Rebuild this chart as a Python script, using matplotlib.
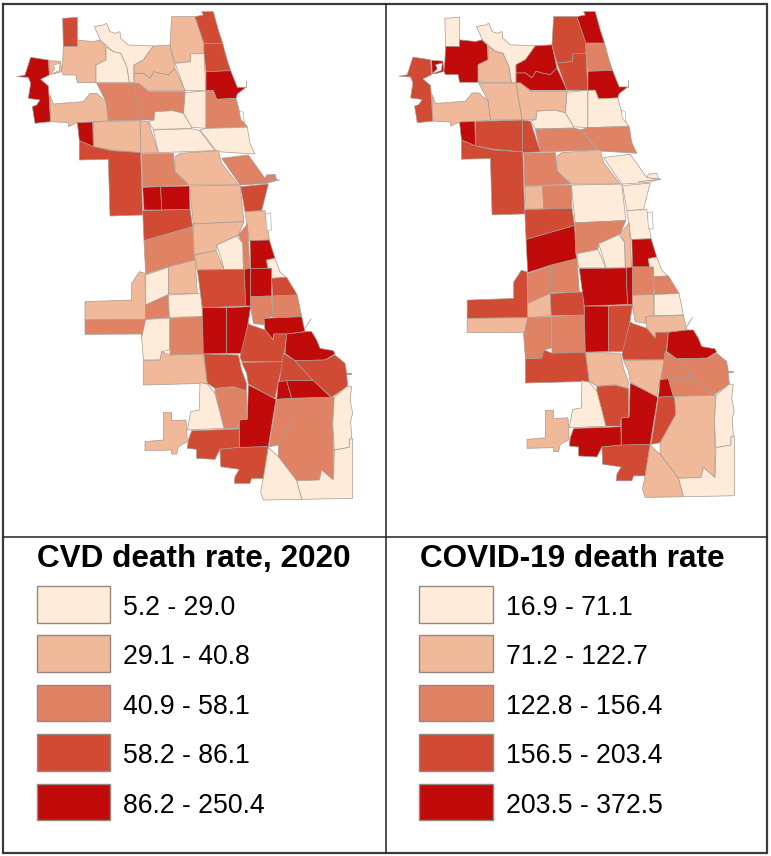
#!/usr/bin/env python3
import matplotlib
matplotlib.use('Agg')
import matplotlib.pyplot as plt
from matplotlib.patches import Polygon, Rectangle

plt.rcParams['font.family'] = ['Liberation Sans', 'DejaVu Sans']

# Area outlines (units are 1/3 pixel of the left map)
area_outlines = [
    [(188,55),(232,52),(232,140),(190,140)],
    [(190,140),(232,140),(232,120),(280,125),(300,120),(315,135),(318,180),(288,195),(288,248),(232,248),(228,225),(190,225),(185,215),(188,185)],
    [(92,172),(145,180),(148,225),(122,238),(145,258),(148,300),(150,340),(152,365),(105,370),(97,320),(110,315),(120,300),(85,295),(92,250),(85,232),(50,230),(75,225)],
    [(148,182),(182,184),(185,215),(160,222),(150,222)],
    [(283,80),(310,75),(320,70),(330,95),(345,100),(360,95),(362,115),(385,135),(460,138),(430,180),(402,195),(402,248),(388,248),(380,200),(362,160),(340,155),(318,135),(302,122)],
    [(318,140),(340,155),(362,160),(380,200),(388,248),(288,248),(288,195),(318,180)],
    [(460,138),(510,135),(525,205),(505,225),(480,220),(462,215),(450,235),(430,220),(402,220),(402,195),(430,180)],
    [(402,220),(430,220),(450,235),(462,215),(480,220),(505,225),(525,205),(555,272),(445,272),(415,250),(402,250)],
    [(515,50),(585,50),(612,130),(612,160),(572,165),(572,185),(525,190),(510,135)],
    [(585,50),(610,45),(605,35),(640,35),(655,90),(668,130),(612,130)],
    [(612,130),(668,130),(680,175),(692,212),(618,215),(612,160)],
    [(525,190),(572,185),(572,162),(612,160),(618,272),(555,272)],
    [(618,215),(692,212),(712,262),(738,262),(712,282),(708,295),(650,298),(640,272),(618,272)],
    [(555,278),(618,272),(618,385),(575,382),(550,340)],
    [(618,272),(640,272),(650,298),(708,295),(725,360),(742,380),(618,385)],
    [(290,250),(402,250),(420,360),(325,362),(318,305)],
    [(402,250),(415,250),(445,275),(555,275),(550,340),(518,332),(465,335),(462,360),(420,360)],
    [(150,285),(160,312),(250,305),(270,280),(290,280),(318,305),(325,362),(280,366),(232,368),(205,380),(205,368),(152,365)],
    [(465,335),(518,332),(550,340),(575,382),(575,386),(460,388),(445,365),(462,360)],
    [(460,390),(575,386),(600,392),(645,452),(475,458)],
    [(600,390),(618,385),(742,382),(750,430),(765,462),(650,455)],
    [(420,362),(445,365),(475,458),(422,460)],
    [(280,366),(420,362),(422,458),(335,450),(280,440)],
    [(232,368),(278,366),(280,440),(238,422)],
    [(238,422),(280,440),(335,452),(422,458),(428,645),(330,648),(325,478),(238,480)],
    [(425,462),(520,460),(525,515),(565,555),(428,560)],
    [(525,470),(540,460),(655,452),(665,490),(715,555),(568,555),(525,515)],
    [(665,475),(745,465),(795,535),(835,540),(800,550),(720,555)],
    [(800,525),(825,523),(830,540),(795,535)],
    [(428,562),(482,560),(485,630),(432,630)],
    [(482,560),(568,558),(570,628),(485,630)],
    [(568,558),(720,555),(732,665),(580,672)],
    [(722,560),(805,552),(785,632),(735,635)],
    [(735,635),(795,632),(808,720),(748,722)],
    [(428,632),(570,628),(578,680),(432,722)],
    [(432,722),(578,680),(582,765),(585,780),(505,800),(437,822)],
    [(580,672),(732,665),(715,705),(650,735),(648,752),(582,765)],
    [(715,705),(742,672),(750,808),(730,808),(728,730)],
    [(650,735),(710,708),(728,730),(730,808),(672,808),(665,780)],
    [(585,765),(648,752),(672,808),(590,808)],
    [(505,800),(585,780),(592,880),(505,882)],
    [(750,722),(808,720),(825,775),(800,780),(803,805),(752,805)],
    [(803,805),(800,780),(825,775),(840,815),(858,832),(815,835)],
    [(255,905),(395,900),(395,850),(418,815),(435,820),(437,958),(255,960)],
    [(255,960),(437,958),(437,1010),(425,1010),(425,1002),(255,1003)],
    [(437,825),(505,802),(505,883),(437,915)],
    [(437,915),(505,885),(508,952),(437,958)],
    [(505,885),(605,880),(607,950),(508,952)],
    [(437,958),(508,955),(508,1050),(485,1055),(482,1080),(430,1080),(425,1012)],
    [(510,955),(607,950),(610,1062),(510,1065)],
    [(430,1082),(480,1080),(485,1055),(510,1065),(610,1062),(622,1150),(430,1155)],
    [(592,810),(733,808),(737,918),(607,923)],
    [(733,808),(752,805),(752,918),(737,918)],
    [(752,805),(815,805),(815,888),(752,890)],
    [(815,835),(860,832),(892,885),(818,888)],
    [(752,890),(815,888),(817,950),(792,955),(792,975),(760,970),(752,920)],
    [(817,888),(892,885),(905,950),(817,952)],
    [(607,923),(680,923),(680,1060),(610,1062)],
    [(680,923),(752,920),(745,965),(730,1060),(680,1060)],
    [(792,955),(905,950),(915,995),(860,1002),(820,1002),(820,1020),(795,990)],
    [(752,975),(795,990),(820,1020),(822,1002),(860,1002),(850,1085),(725,1085),(720,1070),(745,970)],
    [(860,1002),(918,995),(935,995),(950,1020),(960,1045),(1000,1052),(1005,1062),(975,1080),(885,1082),(855,1060)],
    [(725,1087),(850,1085),(835,1145),(825,1195),(785,1175),(745,1152),(740,1120)],
    [(612,1062),(715,1065),(725,1110),(740,1152),(738,1172),(700,1160),(645,1165),(622,1150)],
    [(850,1060),(885,1082),(940,1142),(860,1142),(838,1145)],
    [(885,1082),(975,1080),(1005,1065),(1035,1090),(1040,1120),(1055,1120),(1055,1123),(1040,1124),(1043,1158),(995,1192),(940,1142)],
    [(835,1145),(860,1142),(875,1195),(830,1198)],
    [(860,1142),(940,1142),(993,1192),(875,1195)],
    [(745,1155),(785,1175),(828,1198),(805,1340),(718,1343),(718,1260),(742,1258)],
    [(645,1165),(700,1162),(740,1172),(740,1258),(718,1260),(715,1285),(672,1285),(645,1180)],
    [(600,1148),(622,1152),(645,1180),(672,1285),(562,1290),(572,1235),(598,1230)],
    [(490,1238),(515,1238),(515,1262),(558,1260),(562,1325),(535,1340),(530,1362),(515,1362),(515,1350),(435,1352),(435,1325),(490,1320)],
    [(575,1292),(717,1287),(718,1342),(660,1348),(645,1378),(590,1375),(590,1348),(562,1345),(565,1320)],
    [(660,1348),(718,1342),(805,1340),(790,1435),(755,1435),(750,1450),(703,1450),(705,1430),(718,1408),(662,1400)],
    [(830,1198),(875,1195),(882,1210),(882,1250),(835,1335),(808,1340)],
    [(878,1195),(1003,1192),(998,1270),(1000,1350),(1000,1440),(965,1410),(958,1440),(890,1442),(835,1370),(835,1335),(882,1250)],
    [(1003,1192),(1043,1158),(1055,1160),(1050,1200),(1058,1240),(1052,1262),(1055,1315),(1048,1318),(1048,1342),(1003,1350),(998,1270)],
    [(1003,1350),(1048,1342),(1048,1318),(1058,1315),(1058,1495),(905,1498),(890,1442),(958,1440),(965,1410),(1000,1440)],
    [(805,1342),(835,1370),(890,1442),(905,1498),(790,1500),(782,1475),(790,1435)],
]

# Class of each area on the two maps, in the same order as area_outlines
cvd_bins = [3,1,4,1,0,0,1,1,1,3,3,0,4,0,2,2,2,1,0,0,0,1,1,4,3,2,1,2,2,4,4,1,3,1,3,2,
            1,2,0,1,1,4,0,1,2,0,2,0,0,2,1,3,4,4,3,2,2,4,4,4,3,4,3,3,3,3,4,4,4,2,0,1,3,3,2,2,0,0,0]
covid_bins = [0,4,3,4,0,1,4,4,3,4,2,3,4,0,0,1,1,1,0,2,2,3,3,4,3,2,1,0,0,1,2,0,0,0,3,4,
              2,1,0,0,2,4,0,3,1,2,1,3,2,2,3,4,4,2,2,1,0,4,3,1,3,4,1,1,2,2,4,2,4,3,0,1,4,3,3,1,0,0,1]

# Water and cut-outs inside the outlines
gap_outlines = [
    [(160,195),(180,190),(178,212),(162,218),(150,222),(165,208)],
    [(797,642),(812,638),(814,690),(800,690)],
    [(718,332),(730,337),(733,368),(722,358)],
]

# Piers and other thin shore lines
pier_lines = [
    [(770,548),(838,540)],
    [(738,242),(738,262)],
    [(915,985),(932,958)],
]

bin_colors = ['#FEEBD9', '#F0B99A', '#E08365', '#D14A33', '#C10A0A']
cvd_title = 'CVD death rate, 2020'
covid_title = 'COVID-19 death rate'
cvd_labels = ['5.2 - 29.0', '29.1 - 40.8', '40.9 - 58.1', '58.2 - 86.1', '86.2 - 250.4']
covid_labels = ['16.9 - 71.1', '71.2 - 122.7', '122.8 - 156.4', '156.5 - 203.4', '203.5 - 372.5']

edge = '#A89A90'


def draw_map(ax, bins):
    for outline, b in zip(area_outlines, bins):
        ax.add_patch(Polygon(outline, closed=True, facecolor=bin_colors[b], edgecolor=edge, linewidth=0.5))
    for outline in gap_outlines:
        ax.add_patch(Polygon(outline, closed=True, facecolor='white', edgecolor=edge, linewidth=0.4))
    for line in pier_lines:
        ax.plot([p[0] for p in line], [p[1] for p in line], color=edge, lw=0.6)
    ax.axis('off')


fig = plt.figure(figsize=(7.71, 8.56), dpi=100)

# Left map: 3 units per pixel
ax_left = fig.add_axes([0, 0, 1, 1])
ax_left.set_xlim(0, 771 * 3)
ax_left.set_ylim(856 * 3, 0)
draw_map(ax_left, cvd_bins)

# Right map sits about 382 px over and is very slightly smaller
ax_right = fig.add_axes([0, 0, 1, 1])
ax_right.patch.set_alpha(0)
ax_right.set_xlim(-382.33 * 3 / 0.998, (771 - 382.33) * 3 / 0.998)
ax_right.set_ylim((856 - 0.06) * 3 / 0.9947, -0.06 * 3 / 0.9947)
draw_map(ax_right, covid_bins)

# Frame and legends in plain pixels
ax = fig.add_axes([0, 0, 1, 1])
ax.patch.set_alpha(0)
ax.set_xlim(0, 771)
ax.set_ylim(856, 0)
ax.axis('off')

ax.plot([3, 3, 767, 767, 3], [4, 853, 853, 4, 4], color='#3A3A3A', lw=1.6, solid_joinstyle='miter')
ax.plot([385.5, 385.5], [4, 853], color='#222222', lw=1.1)
ax.plot([3, 767], [537, 537], color='#222222', lw=1.1)

for box_x, text_x, title_x, title, labels in [
    (36.7, 123, 37, cvd_title, cvd_labels),
    (419, 506, 420.5, covid_title, covid_labels),
]:
    ax.text(title_x, 567, title, fontsize=22.7, fontweight='bold', color='black', va='baseline')
    for i, label in enumerate(labels):
        top = 586 + i * 49.4
        ax.add_patch(Rectangle((box_x, top), 73.5, 36.5, facecolor=bin_colors[i], edgecolor='#958880', linewidth=1.0))
        ax.text(text_x, top + 29, label, fontsize=19.2, color='black', va='baseline')

fig.savefig('out.png', dpi=100)
